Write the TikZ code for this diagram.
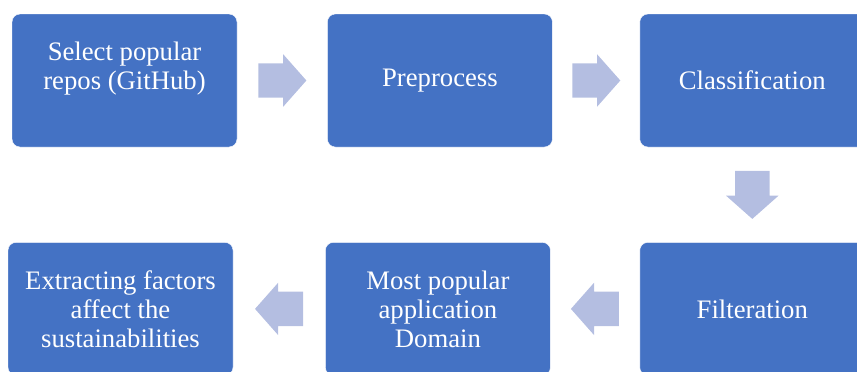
\documentclass[tikz,border=0pt]{standalone}
\usepackage{fontspec}
\newfontfamily\stepfont{Liberation Serif}
\usetikzlibrary{positioning,shapes.arrows,calc}
\definecolor{boxblue}{RGB}{68,114,196}
\definecolor{arrowblue}{RGB}{180,190,225}
\tikzset{
  stepbox/.style={rectangle,draw=white,fill=boxblue,thin,rounded corners=8pt,
    minimum width=225pt,minimum height=133pt,inner sep=4pt,align=center,
    text=white,font=\stepfont\fontsize{26.7}{29}\selectfont},
  blockarrow/.style={single arrow,fill=arrowblue,draw=none,inner xsep=0pt,
    inner ysep=17pt,minimum height=48pt,single arrow head extend=9pt,
    single arrow tip angle=97,anchor=tail},
}

\begin{document}
\begin{tikzpicture}
  \useasboundingbox (0pt,0pt) rectangle (857pt,-372pt);
  % top row, left to right
  \node[stepbox] (sel) at (124.5pt,-80.5pt) {Select popular\\repos (GitHub)\\ };
  \node[stepbox] (pre) [right=90pt of sel] {Preprocess};
  \node[stepbox] (cls) [right=87pt of pre] {Classification};
  % bottom row, right to left
  \node[stepbox] (filt) [below=95pt of cls] {Filteration};
  \node[stepbox] (dom) [left=89pt of filt] {Most popular\\application\\Domain};
  \node[stepbox] (fac) [left=92pt of dom] {Extracting factors\\affect the\\sustainabilities};
  % block arrows, tail placed half a length before the gap's middle
  \node[blockarrow] (a1) at ($(sel.east)!0.5!(pre.west)-(24pt,0)$) {};
  \node[blockarrow] (a2) at ($(pre.east)!0.5!(cls.west)-(24pt,0)$) {};
  \node[blockarrow,rotate=-90] (a3) at ($(cls.south)!0.5!(filt.north)+(0,24pt)$) {};
  \node[blockarrow,rotate=180] (a4) at ($(filt.west)!0.5!(dom.east)+(24pt,0)$) {};
  \node[blockarrow,rotate=180] (a5) at ($(dom.west)!0.5!(fac.east)+(24pt,0)$) {};
\end{tikzpicture}
\end{document}
